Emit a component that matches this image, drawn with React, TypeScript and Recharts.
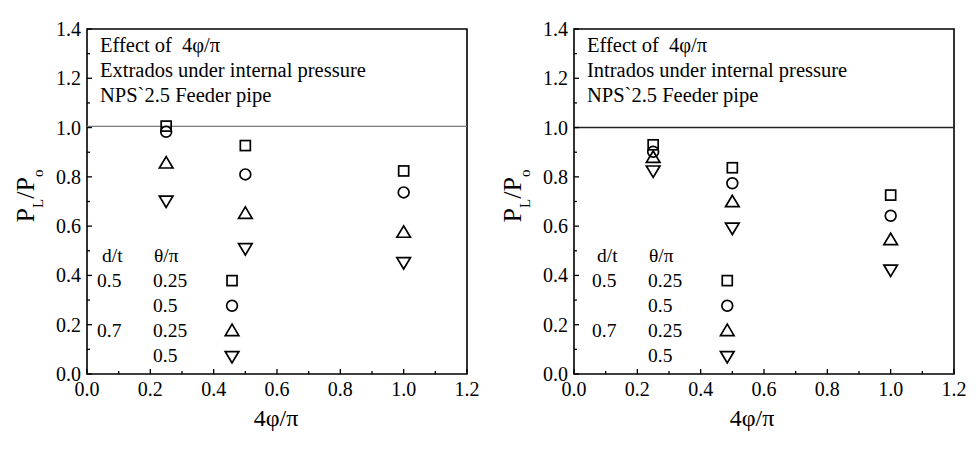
import React from 'react'
import { ScatterChart, Scatter, XAxis, YAxis, ReferenceLine, ReferenceArea } from 'recharts'

// tick values (labels only on every other one)
const xTicks = [0, 0.1, 0.2, 0.3, 0.4, 0.5, 0.6, 0.7, 0.8, 0.9, 1.0, 1.1, 1.2]
const yTicks = [0, 0.1, 0.2, 0.3, 0.4, 0.5, 0.6, 0.7, 0.8, 0.9, 1.0, 1.1, 1.2, 1.3, 1.4]

// 4φ/π positions
const phiValues = [0.25, 0.5, 1.0]

// Extrados (left panel)
const extSquare = [1.006, 0.927, 0.824]
const extCircle = [0.983, 0.81, 0.737]
const extUp = [0.859, 0.655, 0.578]
const extDown = [0.699, 0.506, 0.449]

// Intrados (right panel)
const intSquare = [0.93, 0.837, 0.726]
const intCircle = [0.902, 0.774, 0.642]
const intUp = [0.882, 0.702, 0.548]
const intDown = [0.821, 0.589, 0.419]

// legend markers sit in the plot, in data units
const legendY = [0.379, 0.277, 0.179, 0.068]
const legendXExt = 0.458
const legendXInt = 0.484

const legendDt = ['0.5', '', '0.7', '']
const legendTheta = ['0.25', '0.5', '0.25', '0.5']

const FONT = '"Liberation Serif", "Times New Roman", serif'

type Kind = 'square' | 'circle' | 'up' | 'down'

function Marker({ cx, cy, kind }: { cx: number; cy: number; kind: Kind }) {
  const s = { fill: 'none', stroke: '#000', strokeWidth: 1.7 }
  if (kind === 'square') return <rect x={cx - 5} y={cy - 5} width={10} height={10} {...s} />
  if (kind === 'circle') return <circle cx={cx} cy={cy} r={5.4} {...s} />
  const w = 6.8
  const h = 5.7
  if (kind === 'up')
    return <polygon points={`${cx},${cy - h} ${cx - w},${cy + h} ${cx + w},${cy + h}`} {...s} />
  return <polygon points={`${cx},${cy + h} ${cx - w},${cy - h} ${cx + w},${cy - h}`} {...s} />
}

const isMajor = (v: number) => Math.round(v * 10) % 2 === 0

function XTick(props: any) {
  const { x, y, payload } = props
  const v = payload.value as number
  const major = isMajor(v)
  return (
    <g>
      <line x1={x} x2={x} y1={y} y2={y - (major ? 5 : 3)} stroke="#000" strokeWidth={1.3} />
      {major && (
        <text x={x} y={y + 22} textAnchor="middle" fill="#000" style={{ fontFamily: FONT, fontSize: 20 }}>
          {v.toFixed(1)}
        </text>
      )}
    </g>
  )
}

function YTick(props: any) {
  const { x, y, payload } = props
  const v = payload.value as number
  const major = isMajor(v)
  return (
    <g>
      <line x1={x} x2={x + (major ? 5 : 3)} y1={y} y2={y} stroke="#000" strokeWidth={1.3} />
      {major && (
        <text x={x - 6} y={y} dy="0.35em" textAnchor="end" fill="#000" style={{ fontFamily: FONT, fontSize: 20 }}>
          {v.toFixed(1)}
        </text>
      )}
    </g>
  )
}

const pts = (ys: number[]) => phiValues.map((x, i) => ({ x, y: ys[i] }))

interface PanelProps {
  title: string
  square: number[]
  circle: number[]
  up: number[]
  down: number[]
  legendX: number
  refColor: string
  refY: number
  textX: number
  dtX: number
  dtValX: number
  thetaX: number
  xLabelX: number
}

function Panel(p: PanelProps) {
  const legend = (i: number) => [{ x: p.legendX, y: legendY[i] }]
  const series: [Kind, number[]][] = [
    ['square', p.square],
    ['circle', p.circle],
    ['up', p.up],
    ['down', p.down],
  ]
  return (
    <div style={{ position: 'relative', width: 487, height: 450 }}>
      <ScatterChart width={487} height={450} margin={{ top: 29, right: 20, bottom: 46, left: 0 }}>
        <XAxis
          type="number"
          dataKey="x"
          domain={[0, 1.2]}
          ticks={xTicks}
          interval={0}
          tick={<XTick />}
          tickLine={false}
          tickSize={0}
          tickMargin={0}
          axisLine={false}
          height={30}
        />
        <YAxis
          type="number"
          dataKey="y"
          domain={[0, 1.4]}
          ticks={yTicks}
          interval={0}
          tick={<YTick />}
          tickLine={false}
          tickSize={0}
          tickMargin={0}
          axisLine={false}
          width={87}
        />
        <ReferenceArea x1={0} x2={1.2} y1={0} y2={1.4} fill="none" stroke="#000" strokeWidth={1.6} />
        <ReferenceLine y={p.refY} stroke={p.refColor} strokeWidth={1.4} />
        {series.map(([kind, ys]) => (
          <Scatter
            key={kind}
            data={pts(ys)}
            isAnimationActive={false}
            shape={(s: any) => <Marker cx={s.cx} cy={s.cy} kind={kind} />}
          />
        ))}
        {series.map(([kind], i) => (
          <Scatter
            key={'lg-' + kind}
            data={legend(i)}
            isAnimationActive={false}
            shape={(s: any) => <Marker cx={s.cx} cy={s.cy} kind={kind} />}
          />
        ))}
      </ScatterChart>
      <svg
        width={487}
        height={450}
        style={{ position: 'absolute', left: 0, top: 0, pointerEvents: 'none', fontFamily: FONT }}
        fill="#000"
      >
        <g style={{ fontSize: 20.5 }}>
          <text x={p.textX} y={52}>
            Effect of
            <tspan x={p.textX + 82}>4φ/π</tspan>
          </text>
          <text x={p.textX} y={77}>{p.title}</text>
          <text x={p.textX} y={102}>{'NPS`2.5 Feeder pipe'}</text>
        </g>
        <g style={{ fontSize: 19.5 }}>
          <text x={p.dtX} y={262}>d/t</text>
          <text x={p.thetaX} y={262}>θ/π</text>
          {legendTheta.map((t, i) => (
            <g key={i}>
              <text x={p.dtValX} y={287 + i * 25}>{legendDt[i]}</text>
              <text x={p.thetaX - 1} y={287 + i * 25}>{t}</text>
            </g>
          ))}
        </g>
        <text x={p.xLabelX} y={426} textAnchor="middle" style={{ fontSize: 24 }}>
          4φ/π
        </text>
        <text transform="translate(34,196) rotate(-90)" textAnchor="middle" style={{ fontSize: 26 }}>
          P<tspan style={{ fontSize: 15 }} dy={9}>L</tspan>
          <tspan dy={-9}>/P</tspan>
          <tspan style={{ fontSize: 15 }} dy={9}>o</tspan>
        </text>
      </svg>
    </div>
  )
}

export default function App() {
  return (
    <div style={{ position: 'absolute', left: 0, top: 0, width: 977, height: 450, background: '#fff', display: 'flex' }}>
      <Panel
        title="Extrados under internal pressure"
        square={extSquare}
        circle={extCircle}
        up={extUp}
        down={extDown}
        legendX={legendXExt}
        refColor="#7a7a7a"
        refY={1.005}
        textX={100}
        dtX={102}
        dtValX={97}
        thetaX={154}
        xLabelX={276}
      />
      <Panel
        title="Intrados under internal pressure"
        square={intSquare}
        circle={intCircle}
        up={intUp}
        down={intDown}
        legendX={legendXInt}
        refColor="#222"
        refY={1.0}
        textX={100}
        dtX={110}
        dtValX={105}
        thetaX={162}
        xLabelX={265}
      />
    </div>
  )
}
